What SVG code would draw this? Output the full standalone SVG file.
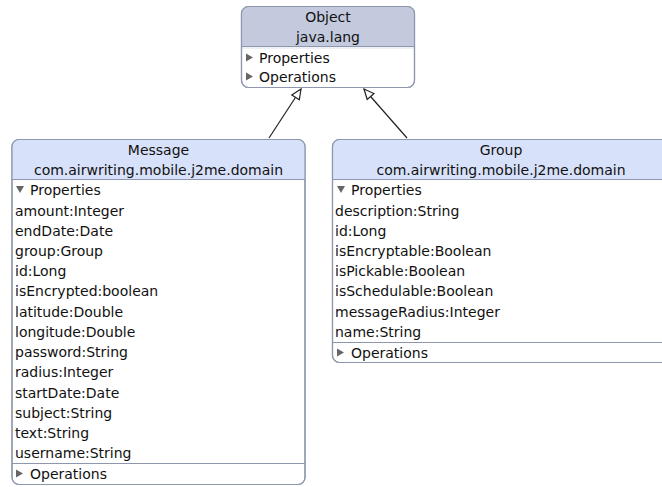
<svg xmlns="http://www.w3.org/2000/svg" width="662" height="487" viewBox="0 0 662 487">
  <style>
    text { font-family: "DejaVu Sans", "Liberation Sans", sans-serif; font-size: 14px; fill: #111; }
    .title { text-anchor: middle; }
    .frame { fill: #ffffff; stroke: #8e97ad; stroke-width: 1.2; }
    .head-grey { fill: #c3cade; }
    .head-blue { fill: #d8e1fa; }
    .sep { stroke: #8e97ad; stroke-width: 1.2; fill: none; }
    .tri { fill: #666; }
    .edge { stroke: #222; stroke-width: 1.2; fill: none; marker-end: url(#inherit); }
  </style>
  <defs>
    <marker id="inherit" viewBox="0 0 12 12" refX="11" refY="6" markerWidth="12" markerHeight="12" markerUnits="userSpaceOnUse" orient="auto">
      <path d="M1,1.5 L11,6 L1,10.5 Z" fill="#fff" stroke="#222" stroke-width="1.2"/>
    </marker>
    <clipPath id="clipObject"><rect x="241.5" y="6.5" width="173" height="81" rx="7"/></clipPath>
    <clipPath id="clipMessage"><rect x="12" y="139.5" width="293" height="345" rx="7"/></clipPath>
    <clipPath id="clipGroup"><rect x="332.5" y="139.5" width="340" height="223" rx="7"/></clipPath>
  </defs>

  <rect width="662" height="487" fill="#ffffff"/>

  <g id="connectors">
    <line class="edge" x1="269" y1="138" x2="301" y2="89"/>
    <line class="edge" x1="407" y1="138" x2="364" y2="89"/>
  </g>

  <g id="object">
    <rect class="frame" x="241.5" y="6.5" width="173" height="81" rx="7"/>
    <rect class="head-grey" x="241.5" y="6.5" width="173" height="40" clip-path="url(#clipObject)"/>
    <line class="sep" x1="241.5" y1="46.5" x2="414.5" y2="46.5"/>
    <line x1="241.5" y1="48" x2="414.5" y2="48" stroke="#dde2ee" stroke-width="1"/>
    <rect x="241.5" y="6.5" width="173" height="81" rx="7" fill="none" stroke="#8e97ad" stroke-width="1.2"/>
    <text class="title" x="328" y="22">Object</text>
    <text class="title" x="328" y="42">java.lang</text>
    <path class="tri" d="M246,53.5 L253,57.5 L246,61.5 Z"/>
    <text x="259" y="63">Properties</text>
    <path class="tri" d="M246,72.5 L253,76.5 L246,80.5 Z"/>
    <text x="259" y="82">Operations</text>
  </g>

  <g id="message">
    <rect class="frame" x="12" y="139.5" width="293" height="345" rx="7"/>
    <rect class="head-blue" x="12" y="139.5" width="293" height="40" clip-path="url(#clipMessage)"/>
    <line class="sep" x1="12" y1="179.5" x2="305" y2="179.5"/>
    <line class="sep" x1="12" y1="463.5" x2="305" y2="463.5"/>
    <rect x="12" y="139.5" width="293" height="345" rx="7" fill="none" stroke="#8e97ad" stroke-width="1.2"/>
    <text class="title" x="158.5" y="155">Message</text>
    <text class="title" x="158.5" y="175">com.airwriting.mobile.j2me.domain</text>
    <path class="tri" d="M16,186 L24,186 L20,193 Z"/>
    <text x="30" y="195">Properties</text>
    <text x="15" y="215.5">amount:Integer</text>
    <text x="15" y="235.5">endDate:Date</text>
    <text x="15" y="255.5">group:Group</text>
    <text x="15" y="276">id:Long</text>
    <text x="15" y="296">isEncrypted:boolean</text>
    <text x="15" y="316.5">latitude:Double</text>
    <text x="15" y="336.5">longitude:Double</text>
    <text x="15" y="357">password:String</text>
    <text x="15" y="377">radius:Integer</text>
    <text x="15" y="397.5">startDate:Date</text>
    <text x="15" y="417.5">subject:String</text>
    <text x="15" y="438">text:String</text>
    <text x="15" y="458">username:String</text>
    <path class="tri" d="M16,469.5 L23,473.5 L16,477.5 Z"/>
    <text x="30" y="479">Operations</text>
  </g>

  <g id="group">
    <rect class="frame" x="332.5" y="139.5" width="340" height="223" rx="7"/>
    <rect class="head-blue" x="332.5" y="139.5" width="340" height="40" clip-path="url(#clipGroup)"/>
    <line class="sep" x1="332.5" y1="179.5" x2="672" y2="179.5"/>
    <line class="sep" x1="332.5" y1="342.5" x2="672" y2="342.5"/>
    <rect x="332.5" y="139.5" width="340" height="223" rx="7" fill="none" stroke="#8e97ad" stroke-width="1.2"/>
    <text class="title" x="501" y="155">Group</text>
    <text class="title" x="501" y="175">com.airwriting.mobile.j2me.domain</text>
    <path class="tri" d="M337,186 L345,186 L341,193 Z"/>
    <text x="351" y="195">Properties</text>
    <text x="335" y="215.5">description:String</text>
    <text x="335" y="235.5">id:Long</text>
    <text x="335" y="255.5">isEncryptable:Boolean</text>
    <text x="335" y="276">isPickable:Boolean</text>
    <text x="335" y="296">isSchedulable:Boolean</text>
    <text x="335" y="316.5">messageRadius:Integer</text>
    <text x="335" y="336.5">name:String</text>
    <path class="tri" d="M337,348.5 L344,352.5 L337,356.5 Z"/>
    <text x="351" y="358">Operations</text>
  </g>
</svg>
